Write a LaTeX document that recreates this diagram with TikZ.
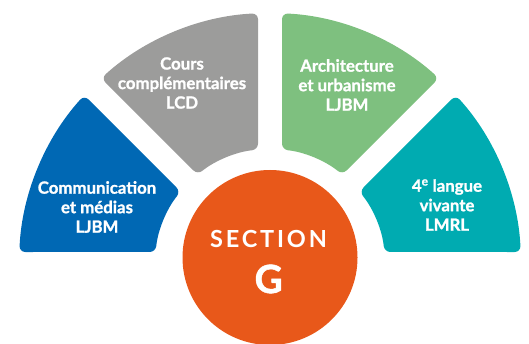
\documentclass[tikz,border=0pt]{standalone}
\usepackage{fontspec}
\setmainfont{Lato}[BoldFeatures={FakeBold=1.2}]
\newfontfamily\secfont{Lato}[LetterSpace=12]
\definecolor{cblue}{HTML}{0068B4}
\definecolor{cgray}{HTML}{9C9C9B}
\definecolor{cgreen}{HTML}{7EC07F}
\definecolor{cteal}{HTML}{00ABB1}
\definecolor{corange}{HTML}{E8581A}
\newcommand\mysector[3]{%
  \fill[#3, rounded corners=6pt, shift={(270pt,80pt)}]
    ({#1+2.74}:251pt) arc[start angle={#1+2.74}, end angle={#2-2.74}, radius=251pt]
    -- ({#2-5.99}:115pt) arc[start angle={#2-5.99}, end angle={#1+5.99}, radius=115pt]
    -- cycle;}
\begin{document}
\begin{tikzpicture}[x=1pt,y=1pt,
  lbl/.style={text=white, align=center, font=\fontsize{16.8}{19.5}\selectfont\bfseries, inner sep=0pt}]
\useasboundingbox (0,0) rectangle (529,344);
\mysector{135}{180}{cblue}
\mysector{90}{135}{cgray}
\mysector{45}{90}{cgreen}
\mysector{0}{45}{cteal}
\node[circle, fill=corange, minimum size=175pt, inner sep=0pt] (sec) at (270,86.5) {};
\node[text=white, font=\fontsize{23.5}{24}\selectfont\secfont\bfseries, inner sep=0pt] (sectxt) at (268.5,104.5) {SECTION};
\node[text=white, font=\fontsize{39}{40}\selectfont\bfseries, inner sep=0pt] (gtxt) at (268.7,65) {G};
\node[lbl] (comm) at (97,137) {Communication\\et médias\\LJBM};
\node[lbl] (cours) at (182,261) {Cours\\complémentaires\\LCD};
\node[lbl] (arch) at (347,259) {Architecture\\et urbanisme\\LJBM};
\node[lbl] (lang) at (447,139) {4\textsuperscript{e} langue\\vivante\\LMRL};
\end{tikzpicture}
\end{document}
